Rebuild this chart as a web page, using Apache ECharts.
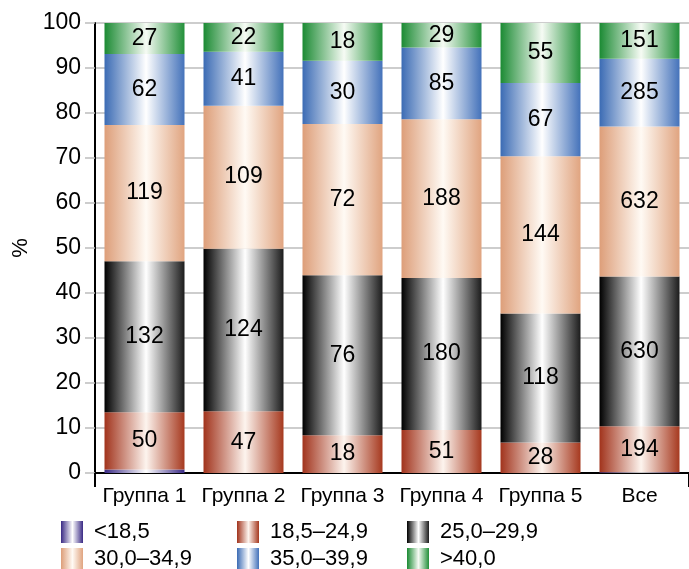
<!DOCTYPE html>
<html>
<head>
<meta charset="utf-8">
<script src="https://cdn.jsdelivr.net/npm/echarts@6/dist/echarts.min.js"></script>
<style>
  html, body { margin: 0; padding: 0; background: #ffffff; }
  #chart { width: 689px; height: 569px; }
</style>
</head>
<body>
<div id="chart"></div>
<script>
// Groups along the x axis
const categories = ['Группа 1', 'Группа 2', 'Группа 3', 'Группа 4', 'Группа 5', 'Все'];

// BMI class names (legend)
const classNames = ['<18,5', '18,5–24,9', '25,0–29,9', '30,0–34,9', '35,0–39,9', '>40,0'];

// Number of people per BMI class in each group
const under185 = [3, 0, 0, 0, 0, 3];
const bmi185to249 = [50, 47, 18, 51, 28, 194];
const bmi250to299 = [132, 124, 76, 180, 118, 630];
const bmi300to349 = [119, 109, 72, 188, 144, 632];
const bmi350to399 = [62, 41, 30, 85, 67, 285];
const over400 = [27, 22, 18, 29, 55, 151];

const counts = [under185, bmi185to249, bmi250to299, bmi300to349, bmi350to399, over400];

// y-axis ticks
const yMin = 0, yMax = 100, yStep = 10;

// Edge / centre colours of the horizontal bar gradients
const edgeColors = [
  ['#3a2a85', '#3a2a85'],
  ['#a1331c', '#a6391f'],
  ['#000000', '#1c1c1c'],
  ['#dd9e79', '#e0a480'],
  ['#3b6bb4', '#4472ba'],
  ['#1b8a33', '#23903a']
];
const centerColors = ['#ffffff', '#fdf4ee', '#ffffff', '#fffaf4', '#ffffff', '#f6fbf4'];

function barGradient(i) {
  return new echarts.graphic.LinearGradient(0, 0, 1, 0, [
    { offset: 0, color: edgeColors[i][0] },
    { offset: 0.52, color: centerColors[i] },
    { offset: 1, color: edgeColors[i][1] }
  ]);
}

// Totals per group, used to turn counts into shares
const totals = categories.map((_, j) => counts.reduce((s, arr) => s + arr[j], 0));

const series = classNames.map((name, i) => ({
  name: name,
  type: 'bar',
  stack: 'share',
  barWidth: 80,
  data: counts[i].map((c, j) => ({ value: c / totals[j] * 100, count: c })),
  itemStyle: { color: barGradient(i) },
  label: {
    show: i > 0,
    position: 'inside',
    color: '#000000',
    fontFamily: 'Liberation Sans',
    fontSize: 23,
    formatter: p => String(p.data.count)
  },
  emphasis: { disabled: true }
}));

// Legend: two rows of three entries, one legend box per entry
const legendText = { color: '#000000', fontFamily: 'Liberation Sans', fontSize: 22, padding: [0, 0, 0, 6] };
const colLeft = [61, 237, 407];
const rowTop = [521, 548];
const legends = classNames.map((name, i) => ({
  orient: 'horizontal',
  left: colLeft[i % 3],
  top: rowTop[Math.floor(i / 3)],
  padding: 0,
  itemWidth: 22,
  itemHeight: 22,
  icon: 'rect',
  selectedMode: false,
  textStyle: legendText,
  data: [name]
}));

const chart = echarts.init(document.getElementById('chart'), null, { renderer: 'canvas' });
chart.setOption({
  animation: false,
  backgroundColor: '#ffffff',
  grid: { left: 95, right: -4, top: 23, bottom: 96 },
  legend: legends,
  xAxis: {
    type: 'category',
    data: categories,
    axisLine: { show: true, lineStyle: { color: '#000000', width: 2 } },
    axisTick: { show: true, length: 14, interval: i => i === 0, lineStyle: { color: '#000000', width: 2 } },
    axisLabel: { color: '#000000', fontFamily: 'Liberation Sans', fontSize: 21, margin: 13, interval: 0 }
  },
  yAxis: {
    type: 'value',
    min: yMin,
    max: yMax,
    interval: yStep,
    name: '%',
    nameLocation: 'middle',
    nameGap: 59,
    nameRotate: 90,
    nameTextStyle: { color: '#000000', fontFamily: 'Liberation Sans', fontSize: 22 },
    axisLine: { show: true, lineStyle: { color: '#000000', width: 2 } },
    axisTick: { show: true, inside: false, length: 10, lineStyle: { color: '#bdbdbd', width: 1.5 } },
    axisLabel: { color: '#000000', fontFamily: 'Liberation Sans', fontSize: 23, margin: 14 },
    splitLine: { show: true, lineStyle: { color: '#bdbdbd', width: 1.5 } }
  },
  series: series
});
</script>
</body>
</html>
